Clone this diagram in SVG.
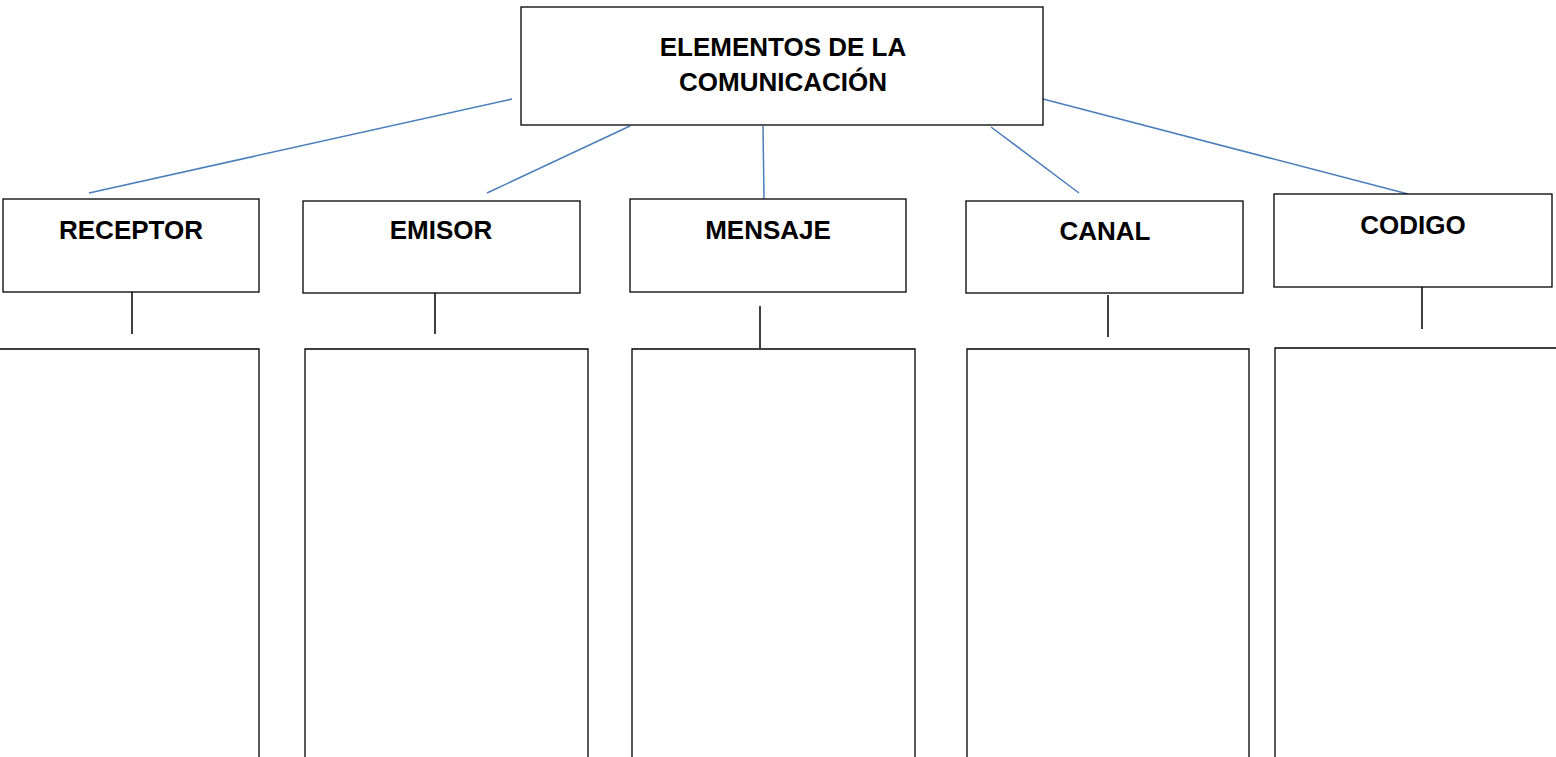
<svg xmlns="http://www.w3.org/2000/svg" width="1556" height="757" viewBox="0 0 1556 757">
<style>
.box{fill:#fff;stroke:#000;stroke-width:1.3}
.col{fill:none;stroke:#000;stroke-width:1.3}
.lbl{font-family:"Liberation Sans",Arial,sans-serif;font-weight:bold;font-size:26px;fill:#000;text-anchor:middle}
.blue{stroke:#4a7ebb;stroke-width:1.5;fill:none}
.stem{stroke:#000;stroke-width:1.5;fill:none}
</style>
<rect width="1556" height="757" fill="#fff"/>
<g id="connectors">
<line class="blue" x1="512" y1="99" x2="89" y2="193"/>
<line class="blue" x1="630" y1="126" x2="487" y2="193"/>
<line class="blue" x1="763" y1="126" x2="764" y2="199"/>
<line class="blue" x1="991" y1="127" x2="1079" y2="193"/>
<line class="blue" x1="1043" y1="99" x2="1408" y2="194"/>
<line class="stem" x1="132" y1="292" x2="132" y2="334"/>
<line class="stem" x1="435" y1="292" x2="435" y2="334"/>
<line class="stem" x1="760" y1="306" x2="760" y2="348"/>
<line class="stem" x1="1108" y1="295" x2="1108" y2="337"/>
<line class="stem" x1="1422" y1="287" x2="1422" y2="329"/>
</g>
<g id="root">
<rect class="box" x="521" y="7" width="522" height="118"/>
<text class="lbl" x="783" y="56">ELEMENTOS DE LA</text>
<text class="lbl" x="783" y="91">COMUNICACIÓN</text>
</g>
<g id="receptor">
<rect class="box" x="3" y="199" width="256" height="93"/>
<text class="lbl" x="131" y="239">RECEPTOR</text>
</g>
<g id="emisor">
<rect class="box" x="303" y="201" width="277" height="92"/>
<text class="lbl" x="441" y="239">EMISOR</text>
</g>
<g id="mensaje">
<rect class="box" x="630" y="199" width="276" height="93"/>
<text class="lbl" x="768" y="239">MENSAJE</text>
</g>
<g id="canal">
<rect class="box" x="966" y="201" width="277" height="92"/>
<text class="lbl" x="1105" y="240">CANAL</text>
</g>
<g id="codigo">
<rect class="box" x="1274" y="194" width="278" height="93"/>
<text class="lbl" x="1413" y="234">CODIGO</text>
</g>
<g id="receptor-detail">
<path class="col" d="M0,349 H259 V757"/>
</g>
<g id="emisor-detail">
<path class="col" d="M305,757 V349 H588 V757"/>
</g>
<g id="mensaje-detail">
<path class="col" d="M632,757 V349 H915 V757"/>
</g>
<g id="canal-detail">
<path class="col" d="M967,757 V349 H1249 V757"/>
</g>
<g id="codigo-detail">
<path class="col" d="M1275,757 V348 H1556"/>
</g>
</svg>
